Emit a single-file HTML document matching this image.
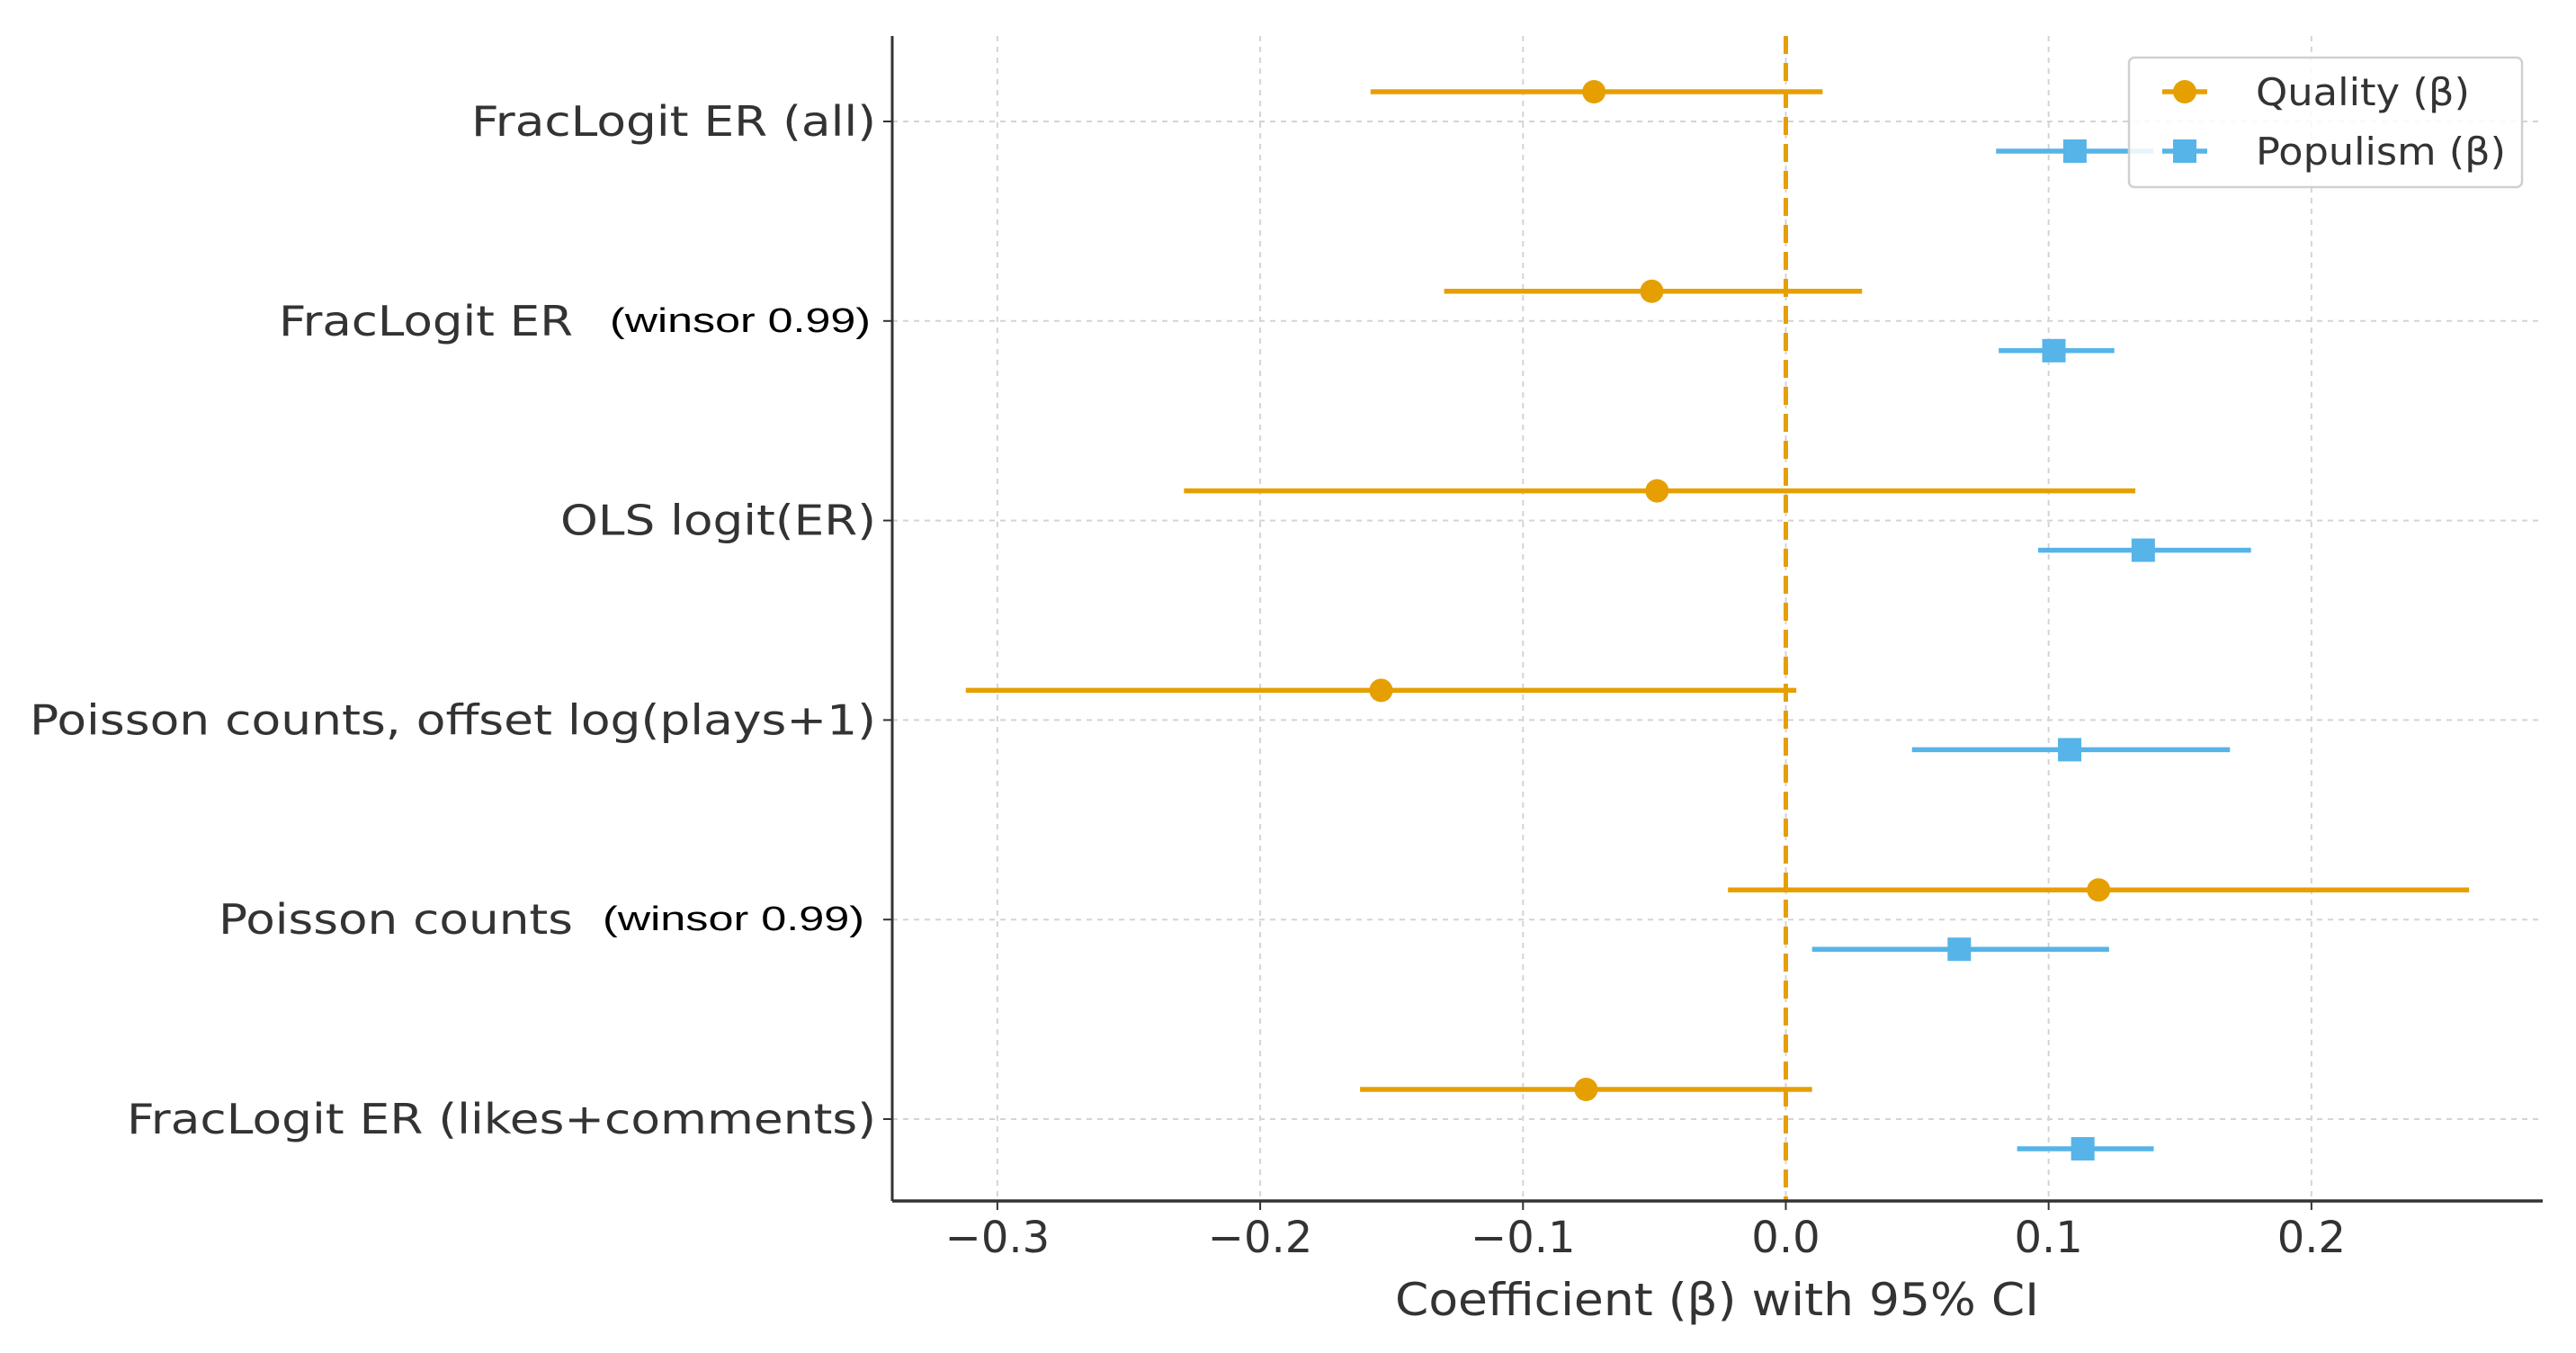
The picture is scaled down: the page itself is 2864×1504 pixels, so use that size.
<!DOCTYPE html>
<html><head><meta charset="utf-8"><style>
html,body{margin:0;padding:0;background:#fff;}
svg{display:block;}
text{font-family:"DejaVu Sans","Liberation Sans",sans-serif;}
</style></head><body>
<svg id="chart" width="2864" height="1504" viewBox="0 0 2864 1504" xmlns="http://www.w3.org/2000/svg">
<g id="grid"></g>
<g id="marks"></g>
<g id="axes"></g>
<g id="legend">
  <rect x="2367" y="64" width="437" height="144" rx="6" fill="#fff" fill-opacity="0.85" stroke="#d0d0d0" stroke-width="2.5"/>
  <g>
    <line x1="2404" y1="102" x2="2454" y2="102" stroke="#E69F00" stroke-width="5.5"/>
    <circle cx="2429" cy="102" r="13" fill="#E69F00"/>
    <text x="2508" y="117" font-size="42" fill="#333" textLength="238" lengthAdjust="spacingAndGlyphs">Quality (β)</text>
  </g>
  <g>
    <line x1="2404" y1="168" x2="2454" y2="168" stroke="#56B4E9" stroke-width="5.5"/>
    <rect x="2416" y="155" width="26" height="26" fill="#56B4E9"/>
    <text x="2508" y="183" font-size="42" fill="#333" textLength="278" lengthAdjust="spacingAndGlyphs">Populism (β)</text>
  </g>
</g>
</svg>
<script>
const categories = ["FracLogit ER (all)","FracLogit ER (winsor 0.99)","OLS logit(ER)","Poisson counts, offset log(plays+1)","Poisson counts (winsor 0.99)","FracLogit ER (likes+comments)"];
const qualityEst = [-0.073,-0.051,-0.049,-0.154,0.119,-0.076];
const qualityLo  = [-0.158,-0.130,-0.229,-0.312,-0.022,-0.162];
const qualityHi  = [0.014,0.029,0.133,0.004,0.260,0.010];
const populismEst = [0.110,0.102,0.136,0.108,0.066,0.113];
const populismLo  = [0.080,0.081,0.096,0.048,0.010,0.088];
const populismHi  = [0.140,0.125,0.177,0.169,0.123,0.140];
const xTicks = [-0.3,-0.2,-0.1,0.0,0.1,0.2];
const xTickLabels = ["−0.3","−0.2","−0.1","0.0","0.1","0.2"];

const NS="http://www.w3.org/2000/svg";
const L=992,R=2827,T=40,B=1335;
const xMin=-0.340,xMax=0.288;
function xs(v){return L+(v-xMin)/(xMax-xMin)*(R-L);}
const rowTop=135,rowStep=221.8;
function ys(i){return rowTop+i*rowStep;}
const off=33;
function mk(tag,attrs,parent){const e=document.createElementNS(NS,tag);for(const k in attrs)e.setAttribute(k,attrs[k]);parent.appendChild(e);return e;}
const grid=document.getElementById('grid'),marks=document.getElementById('marks'),axes=document.getElementById('axes');

xTicks.forEach((t,i)=>{
  const g=mk('line',{x1:xs(t),x2:xs(t),y1:T,y2:B,stroke:'#d4d4d4','stroke-width':2,'stroke-dasharray':'6,6'},grid);
  
  
  const tk=mk('line',{x1:xs(t),x2:xs(t),y1:B,y2:B+10,stroke:'#333','stroke-width':2},axes);
  
  
  const tl=mk('text',{x:xs(t),y:1392,'font-size':48,fill:'#333','text-anchor':'middle'},axes);
  tl.textContent=xTickLabels[i];
  
  
});
categories.forEach((c,i)=>{
  const g=mk('line',{x1:L,x2:R,y1:ys(i),y2:ys(i),stroke:'#d4d4d4','stroke-width':2,'stroke-dasharray':'6,6'},grid);
  
  
  const tk=mk('line',{x1:L-10,x2:L,y1:ys(i),y2:ys(i),stroke:'#333','stroke-width':2},axes);
  
  
});
const z=mk('line',{x1:xs(0),x2:xs(0),y1:T,y2:B,stroke:'#E69F00','stroke-width':5,'stroke-dasharray':'20,10'},marks);



categories.forEach((c,i)=>{
  const yq=ys(i)-off, yp=ys(i)+off;
  const ql=mk('line',{x1:xs(qualityLo[i]),x2:xs(qualityHi[i]),y1:yq,y2:yq,stroke:'#E69F00','stroke-width':5.5},marks);
  
  
  const qp=mk('circle',{cx:xs(qualityEst[i]),cy:yq,r:13,fill:'#E69F00'},marks);
  
  
  const pl=mk('line',{x1:xs(populismLo[i]),x2:xs(populismHi[i]),y1:yp,y2:yp,stroke:'#56B4E9','stroke-width':5.5},marks);
  
  
  const pp=mk('rect',{x:xs(populismEst[i])-13,y:yp-13,width:26,height:26,fill:'#56B4E9'},marks);
  
  
});

const labelSpecs=[
  {main:"FracLogit ER (all)",x1:524,x2:974},
  {main:"FracLogit ER",x1:310,x2:637,sub:"(winsor 0.99)",s1:678,s2:968},
  {main:"OLS logit(ER)",x1:623,x2:974},
  {main:"Poisson counts, offset log(plays+1)",x1:33,x2:974},
  {main:"Poisson counts",x1:243,x2:637,sub:"(winsor 0.99)",s1:670,s2:961},
  {main:"FracLogit ER (likes+comments)",x1:141,x2:974}
];
labelSpecs.forEach((s,i)=>{
  const t=mk('text',{x:s.x1,y:ys(i)+16,'font-size':46,fill:'#333',textLength:s.x2-s.x1,lengthAdjust:'spacingAndGlyphs'},axes);
  t.textContent=s.main;
  
  
  if(s.sub){
    const u=mk('text',{x:s.s1,y:ys(i)+12,'font-size':38,fill:'#000',textLength:s.s2-s.s1,lengthAdjust:'spacingAndGlyphs'},axes);
    u.setAttribute('style','font-family:"Liberation Sans",sans-serif');
    u.textContent=s.sub;
    
    
  }
});
const sl=mk('line',{x1:L,x2:L,y1:T,y2:B,stroke:'#333','stroke-width':3},axes);


const sb=mk('line',{x1:L,x2:R,y1:B,y2:B,stroke:'#333','stroke-width':3.5},axes);


const xt=mk('text',{x:1909,y:1462,'font-size':50,fill:'#333','text-anchor':'middle',textLength:716,lengthAdjust:'spacingAndGlyphs'},axes);
xt.textContent="Coefficient (β) with 95% CI";


</script>
</body></html>
